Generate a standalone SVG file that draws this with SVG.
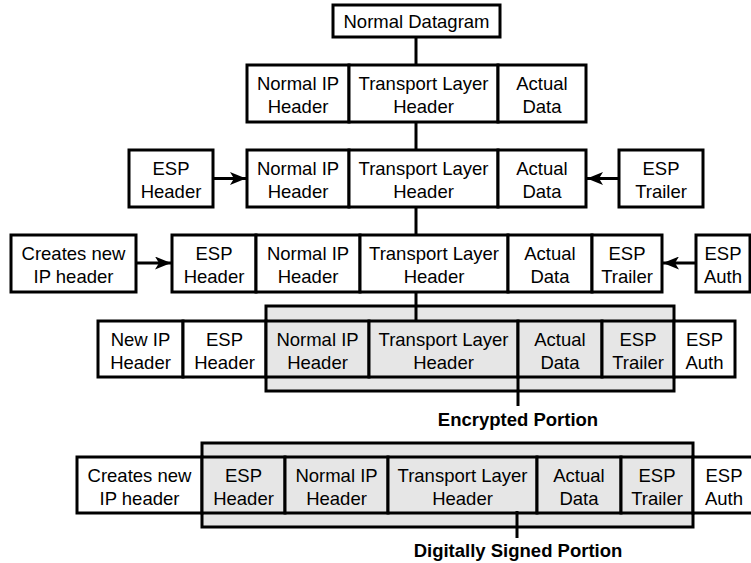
<svg xmlns="http://www.w3.org/2000/svg" width="751" height="563" viewBox="0 0 751 563">
<style>
.b{fill:#fff;stroke:#000;stroke-width:3}
.g{fill:#e6e6e6;stroke:#000;stroke-width:3}
.t{font-family:"Liberation Sans",Arial,sans-serif;font-size:18.5px;text-anchor:middle;fill:#000}
.tb{font-family:"Liberation Sans",Arial,sans-serif;font-size:18.5px;font-weight:bold;text-anchor:middle;fill:#000}
.c{stroke:#000;stroke-width:3;fill:none}
</style>
<defs>
<marker id="ah" viewBox="0 0 16 13" refX="16" refY="6.5" markerWidth="16" markerHeight="13" markerUnits="userSpaceOnUse" orient="auto">
<path d="M0,0 L16,6.5 L0,13 L4,6.5 Z" fill="#000"/>
</marker>
</defs>
<rect width="751" height="563" fill="#fff"/>

<g id="connectors">
<line class="c" x1="416" y1="37" x2="416" y2="65"/>
<line class="c" x1="416" y1="122" x2="416" y2="150"/>
<line class="c" x1="416" y1="207" x2="416" y2="235"/>
<line class="c" x1="213" y1="178.5" x2="246" y2="178.5" marker-end="url(#ah)"/>
<line class="c" x1="619" y1="178.5" x2="587" y2="178.5" marker-end="url(#ah)"/>
<line class="c" x1="136" y1="263" x2="171" y2="263" marker-end="url(#ah)"/>
<line class="c" x1="696" y1="263" x2="663" y2="263" marker-end="url(#ah)"/>
</g>

<g id="normal-datagram">
<rect class="b" x="333" y="5" width="167" height="32"/>
<text class="t" x="416.5" y="28">Normal Datagram</text>
</g>

<g id="row2">
<rect class="b" x="247" y="65" width="102" height="57"/>
<rect class="b" x="349" y="65" width="149" height="57"/>
<rect class="b" x="498" y="65" width="88" height="57"/>
<text class="t" x="298" y="90">Normal IP</text><text class="t" x="298" y="112.5">Header</text>
<text class="t" x="423.5" y="90">Transport Layer</text><text class="t" x="423.5" y="112.5">Header</text>
<text class="t" x="542" y="90">Actual</text><text class="t" x="542" y="112.5">Data</text>
</g>

<g id="esp-header-1">
<rect class="b" x="129" y="150" width="84" height="57"/>
<text class="t" x="171" y="175">ESP</text><text class="t" x="171" y="197.5">Header</text>
</g>
<g id="esp-trailer-1">
<rect class="b" x="619" y="150" width="84" height="57"/>
<text class="t" x="661" y="175">ESP</text><text class="t" x="661" y="197.5">Trailer</text>
</g>
<g id="row3">
<rect class="b" x="247" y="150" width="102" height="57"/>
<rect class="b" x="349" y="150" width="149" height="57"/>
<rect class="b" x="498" y="150" width="88" height="57"/>
<text class="t" x="298" y="175">Normal IP</text><text class="t" x="298" y="197.5">Header</text>
<text class="t" x="423.5" y="175">Transport Layer</text><text class="t" x="423.5" y="197.5">Header</text>
<text class="t" x="542" y="175">Actual</text><text class="t" x="542" y="197.5">Data</text>
</g>

<g id="creates-new-ip-1">
<rect class="b" x="11" y="235" width="125" height="57"/>
<text class="t" x="73.5" y="260">Creates new</text><text class="t" x="73.5" y="282.5">IP header</text>
</g>
<g id="esp-auth-1">
<rect class="b" x="696" y="235" width="54" height="57"/>
<text class="t" x="723" y="260">ESP</text><text class="t" x="723" y="282.5">Auth</text>
</g>
<g id="row4">
<rect class="b" x="172" y="235" width="84" height="57"/>
<rect class="b" x="256" y="235" width="104" height="57"/>
<rect class="b" x="360" y="235" width="148" height="57"/>
<rect class="b" x="508" y="235" width="84" height="57"/>
<rect class="b" x="592" y="235" width="70" height="57"/>
<text class="t" x="214" y="260">ESP</text><text class="t" x="214" y="282.5">Header</text>
<text class="t" x="308" y="260">Normal IP</text><text class="t" x="308" y="282.5">Header</text>
<text class="t" x="434" y="260">Transport Layer</text><text class="t" x="434" y="282.5">Header</text>
<text class="t" x="550" y="260">Actual</text><text class="t" x="550" y="282.5">Data</text>
<text class="t" x="627" y="260">ESP</text><text class="t" x="627" y="282.5">Trailer</text>
</g>

<g id="encrypted-portion">
<rect class="g" x="266" y="306" width="408" height="85"/>
<line class="c" x1="416" y1="292" x2="416" y2="321"/>
</g>
<g id="row5">
<rect class="b" x="98" y="321" width="85" height="56"/>
<rect class="b" x="183" y="321" width="83" height="56"/>
<rect class="g" x="266" y="321" width="103" height="56"/>
<rect class="g" x="369" y="321" width="149" height="56"/>
<rect class="g" x="518" y="321" width="84" height="56"/>
<rect class="g" x="602" y="321" width="72" height="56"/>
<rect class="b" x="674" y="321" width="61" height="56"/>
<text class="t" x="140.5" y="346">New IP</text><text class="t" x="140.5" y="368.5">Header</text>
<text class="t" x="224.5" y="346">ESP</text><text class="t" x="224.5" y="368.5">Header</text>
<text class="t" x="317.5" y="346">Normal IP</text><text class="t" x="317.5" y="368.5">Header</text>
<text class="t" x="443.5" y="346">Transport Layer</text><text class="t" x="443.5" y="368.5">Header</text>
<text class="t" x="560" y="346">Actual</text><text class="t" x="560" y="368.5">Data</text>
<text class="t" x="638" y="346">ESP</text><text class="t" x="638" y="368.5">Trailer</text>
<text class="t" x="704.5" y="346">ESP</text><text class="t" x="704.5" y="368.5">Auth</text>
<line class="c" x1="518" y1="377" x2="518" y2="406"/>
<text class="tb" x="518" y="426">Encrypted Portion</text>
</g>

<g id="signed-portion">
<rect class="g" x="202" y="443" width="491" height="84"/>
</g>
<g id="row6">
<rect class="b" x="77" y="457" width="125" height="56"/>
<rect class="g" x="202" y="457" width="83" height="56"/>
<rect class="g" x="285" y="457" width="103" height="56"/>
<rect class="g" x="388" y="457" width="149" height="56"/>
<rect class="g" x="537" y="457" width="84" height="56"/>
<rect class="g" x="621" y="457" width="72" height="56"/>
<rect class="b" x="693" y="457" width="70" height="56"/>
<text class="t" x="139.5" y="482">Creates new</text><text class="t" x="139.5" y="504.5">IP header</text>
<text class="t" x="243.5" y="482">ESP</text><text class="t" x="243.5" y="504.5">Header</text>
<text class="t" x="336.5" y="482">Normal IP</text><text class="t" x="336.5" y="504.5">Header</text>
<text class="t" x="462.5" y="482">Transport Layer</text><text class="t" x="462.5" y="504.5">Header</text>
<text class="t" x="579" y="482">Actual</text><text class="t" x="579" y="504.5">Data</text>
<text class="t" x="657" y="482">ESP</text><text class="t" x="657" y="504.5">Trailer</text>
<text class="t" x="724" y="482">ESP</text><text class="t" x="724" y="504.5">Auth</text>
<line class="c" x1="517" y1="511" x2="517" y2="538"/>
<text class="tb" x="518" y="557">Digitally Signed Portion</text>
</g>
</svg>
